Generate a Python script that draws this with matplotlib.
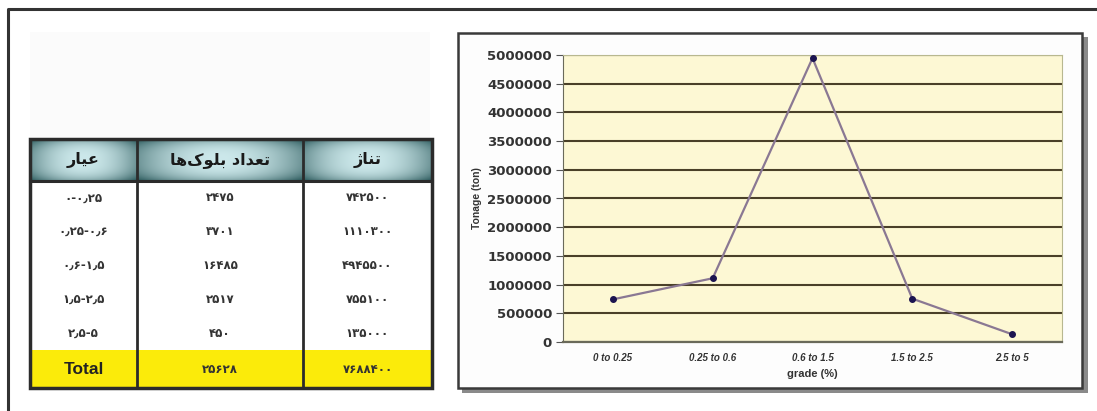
import matplotlib
matplotlib.use('Agg')
import matplotlib.pyplot as plt
import numpy as np
from matplotlib.patches import Rectangle

# data
grades = ['0 to 0.25', '0.25 to 0.6', '0.6 to 1.5', '1.5 to 2.5', '2.5 to 5']
grade_fa = ['۰-۰٫۲۵', '۰٫۲۵-۰٫۶', '۰٫۶-۱٫۵', '۱٫۵-۲٫۵', '۲٫۵-۵']
blocks = [2475, 3701, 16485, 2517, 450]
tonnage = [742500, 1110300, 4945500, 755100, 135000]
yticks = [0, 500000, 1000000, 1500000, 2000000, 2500000, 3000000,
          3500000, 4000000, 4500000, 5000000]

# headers written in visual order with presentation forms
head_grade = '\uFEAD\uFE8E\uFEF4\uFECB'
head_blocks = '\uFE8E\uFEEB\uFB8E\uFEEE\uFEE0\uFE91 \uFEA9\uFE8D\uFEAA\uFECC\uFE97'
head_ton = '\uFB8A\uFE8E\uFEE8\uFE97'

W, H = 1097, 411


def fa(n):
    return str(n).translate(str.maketrans('0123456789', '۰۱۲۳۴۵۶۷۸۹'))


plt.rcParams['font.family'] = ['DejaVu Sans']
fig = plt.figure(figsize=(W / 100, H / 100), dpi=100)

# background axes in pixel coordinates
bg = fig.add_axes([0, 0, 1, 1])
bg.set_xlim(0, W)
bg.set_ylim(H, 0)
bg.axis('off')

# outer frame
bg.plot([8, 8, W], [H, 9, 9], color='#333333', lw=2.2, solid_capstyle='butt')
bg.add_patch(Rectangle((30, 32), 400, 355, facecolor='#fbfbfb', edgecolor='none'))

# ---- table ----
cols_x = [30, 137, 303, 432]
head_top, head_bot = 139, 181
row_h = (350 - head_bot) / len(blocks)
total_top, total_bot = 350, 388

# header gradient
gx = np.linspace(-1, 1, 200)
gy = np.linspace(-1, 1, 40)
GX, GY = np.meshgrid(gx, gy)
shade = 1 - 0.6 * np.abs(GX) ** 2 - 0.45 * np.abs(GY) ** 3
teal = np.zeros(shade.shape + (3,))
teal[..., 0] = 0.18 + 0.62 * shade
teal[..., 1] = 0.36 + 0.55 * shade
teal[..., 2] = 0.37 + 0.55 * shade
teal = np.clip(teal, 0, 1)
for i in range(3):
    bg.imshow(teal, extent=(cols_x[i], cols_x[i + 1], head_bot, head_top),
              aspect='auto', zorder=1)

bg.add_patch(Rectangle((30, head_bot), 402, total_top - head_bot,
                       facecolor='white', edgecolor='none', zorder=1))
bg.add_patch(Rectangle((30, total_top), 402, total_bot - total_top,
                       facecolor='#fbeb0a', edgecolor='none', zorder=1))

headers = [head_grade, head_blocks, head_ton]
for i, t in enumerate(headers):
    cx = (cols_x[i] + cols_x[i + 1]) / 2
    bg.text(cx, (head_top + head_bot) / 2, t, ha='center', va='center',
            fontsize=11.5, fontweight='bold', color='#1a1a1a', zorder=3)

for r in range(len(blocks)):
    cy = head_bot + row_h * (r + 0.5)
    vals = [grade_fa[r], fa(blocks[r]), fa(tonnage[r])]
    for i, v in enumerate(vals):
        cx = (cols_x[i] + cols_x[i + 1]) / 2
        bg.text(cx, cy, v, ha='center', va='center', fontsize=8.5,
                fontweight='bold', color='#333333', zorder=3)

ty = (total_top + total_bot) / 2
bg.text((cols_x[0] + cols_x[1]) / 2, ty, 'Total', ha='center', va='center',
        fontsize=12.5, fontweight='bold', color='#222222', zorder=3,
        family='Liberation Sans')
bg.text((cols_x[1] + cols_x[2]) / 2, ty, fa(sum(blocks)), ha='center',
        va='center', fontsize=8.5, fontweight='bold', color='#333333', zorder=3)
bg.text((cols_x[2] + cols_x[3]) / 2, ty, fa(sum(tonnage)), ha='center',
        va='center', fontsize=8.5, fontweight='bold', color='#333333', zorder=3)

# table lines
lc = '#2b2b2b'
bg.add_patch(Rectangle((30, head_top), 402, total_bot - head_top,
                       facecolor='none', edgecolor=lc, lw=2.5, zorder=4))
for x in cols_x[1:3]:
    bg.plot([x, x], [head_top, total_bot], color=lc, lw=2, zorder=4)
bg.plot([30, 432], [head_bot, head_bot], color=lc, lw=2.2, zorder=4)

# ---- chart panel ----
bg.add_patch(Rectangle((462, 37), 626, 356, facecolor='#8a8a8a',
                       edgecolor='none', zorder=1))
bg.add_patch(Rectangle((458, 33), 624, 355, facecolor='#fdfdfd',
                       edgecolor='#3a3a3a', lw=1.8, zorder=2))

ax = fig.add_axes([563 / W, (H - 342) / H, 499 / W, (342 - 55) / H])
ax.set_facecolor('#fdf8d4')
x = np.arange(len(grades))
ax.plot(x, tonnage, color='#8a7893', lw=1.6, marker='o', ms=4,
        mfc='#1c1450', mec='#1c1450', zorder=3)
ax.set_xlim(-0.5, len(grades) - 0.5)
ax.set_ylim(0, 5000000)
ax.set_yticks(yticks)
ax.set_yticklabels([str(v) for v in yticks], fontsize=9.5, fontweight='bold',
                   color='#333333', family='DejaVu Sans')
ax.set_xticks(x)
ax.set_xticklabels(grades, fontsize=7, fontweight='bold', style='italic',
                   color='#333333', family='Liberation Sans')
ax.grid(axis='y', color='#4a4028', lw=1.5)
ax.set_axisbelow(True)
ax.tick_params(axis='y', length=5, color='#555555', pad=3)
ax.tick_params(axis='x', length=0, pad=8)
for s in ['top', 'right']:
    ax.spines[s].set_color('#b8b890')
    ax.spines[s].set_linewidth(0.8)
ax.spines['left'].set_color('#6a6a5a')
ax.spines['bottom'].set_color('#6a6a5a')
ax.spines['bottom'].set_linewidth(1.6)
ax.set_ylabel('Tonage (ton)', fontsize=7.5, fontweight='bold',
              color='#333333', labelpad=4, family='Liberation Sans')
ax.set_xlabel('grade (%)', fontsize=8, fontweight='bold', color='#333333',
              labelpad=4, family='Liberation Sans')

fig.savefig('out.png', dpi=100)
